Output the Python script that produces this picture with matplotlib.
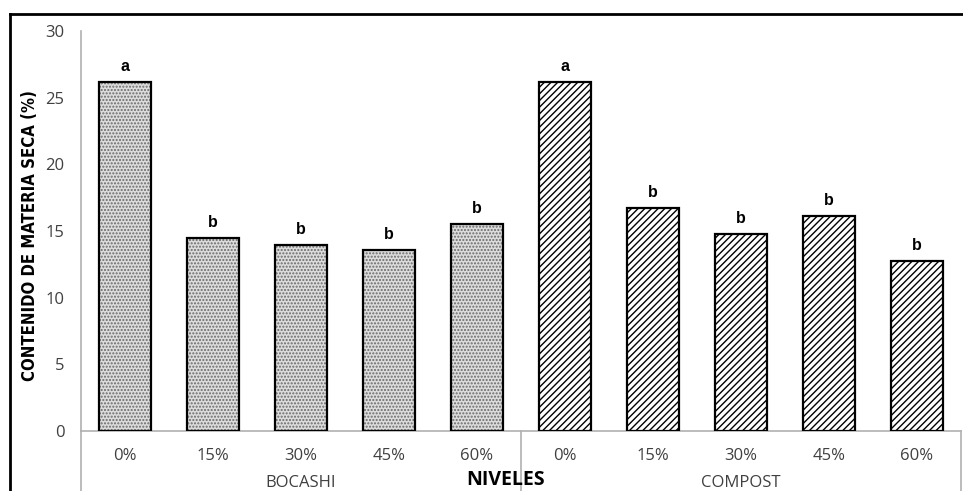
import matplotlib
matplotlib.use("Agg")
import matplotlib.pyplot as plt
from matplotlib.lines import Line2D
import matplotlib.font_manager as fm

levels = ["0%", "15%", "30%", "45%", "60%"]
groups = ["BOCASHI", "COMPOST"]
bocashi = [26.2, 14.5, 13.95, 13.6, 15.55]
compost = [26.2, 16.75, 14.8, 16.1, 12.75]
letters_bocashi = ["a", "b", "b", "b", "b"]
letters_compost = ["a", "b", "b", "b", "b"]

names = {f.name for f in fm.fontManager.ttflist}
narrow = "Liberation Sans Narrow" if "Liberation Sans Narrow" in names else "DejaVu Sans"

W, H = 963, 491
fig = plt.figure(figsize=(W / 100, H / 100), dpi=100)
ax = fig.add_axes([81 / W, (H - 431) / H, (961 - 81) / W, (431 - 31) / H])

x_b = list(range(5))
x_c = list(range(5, 10))
plt.rcParams['hatch.linewidth'] = 1.0
ax.bar(x_b, bocashi, width=0.58, facecolor="#dcdcdc", edgecolor="#6a6a6a",
       linewidth=0, hatch=".....", zorder=3)
ax.bar(x_b, bocashi, width=0.58, fill=False, edgecolor="black",
       linewidth=1.6, zorder=4)
ax.bar(x_c, compost, width=0.58, facecolor="white", edgecolor="black",
       linewidth=1.6, hatch="/////", zorder=3)

for xs, vals, lets in [(x_b, bocashi, letters_bocashi), (x_c, compost, letters_compost)]:
    for x, v, l in zip(xs, vals, lets):
        ax.text(x, v + 0.6, l, ha="center", va="bottom", fontsize=11.5,
                fontweight="bold", family="Liberation Sans")

ax.set_xlim(-0.5, 9.5)
ax.set_ylim(0, 30)
ax.set_yticks([0, 5, 10, 15, 20, 25, 30])
ax.tick_params(axis="y", length=0, pad=12, labelsize=12, labelcolor="#404040")
ax.tick_params(axis="x", length=0, labelsize=12, labelcolor="#404040", pad=12)
ax.set_xticks(x_b + x_c)
ax.set_xticklabels(levels + levels)
for lab in ax.get_xticklabels() + ax.get_yticklabels():
    lab.set_family("Open Sans")

for s in ["top", "right"]:
    ax.spines[s].set_visible(False)
ax.spines["left"].set_color("#b0b0b0")
ax.spines["bottom"].set_color("#b0b0b0")
ax.spines["left"].set_linewidth(1.2)
ax.spines["bottom"].set_linewidth(1.2)

# group separators below the axis
trans = ax.get_xaxis_transform()
for xv in [-0.5, 4.5, 9.5]:
    ax.plot([xv, xv], [0, -0.2], transform=trans, color="#b0b0b0", lw=1.2, clip_on=False)

for i, g in enumerate(groups):
    ax.text(2 + 5 * i, -0.13, g, transform=trans, ha="center", va="center",
            fontsize=12, color="#404040", family="Open Sans")

fig.text(506 / W, 1 - 480 / H, "NIVELES", ha="center", va="center",
         fontsize=14, fontweight="bold", family="Open Sans")
if narrow == "Liberation Sans Narrow":
    fig.text(30 / W, 1 - 236 / H, "CONTENIDO DE MATERIA SECA (%)", rotation=90,
             ha="center", va="center", fontsize=15, fontweight="bold", family=narrow)
else:
    fig.text(30 / W, 1 - 236 / H, "CONTENIDO DE MATERIA SECA (%)", rotation=90,
             ha="center", va="center", fontsize=12, fontweight="bold",
             family="DejaVu Sans", fontstretch="condensed")

# figure border (top and left)
fig.add_artist(Line2D([10 / W, 1], [1 - 14 / H, 1 - 14 / H], color="black", lw=2))
fig.add_artist(Line2D([10 / W, 10 / W], [0, 1 - 14 / H], color="black", lw=2))

fig.savefig("out.png", dpi=100)
